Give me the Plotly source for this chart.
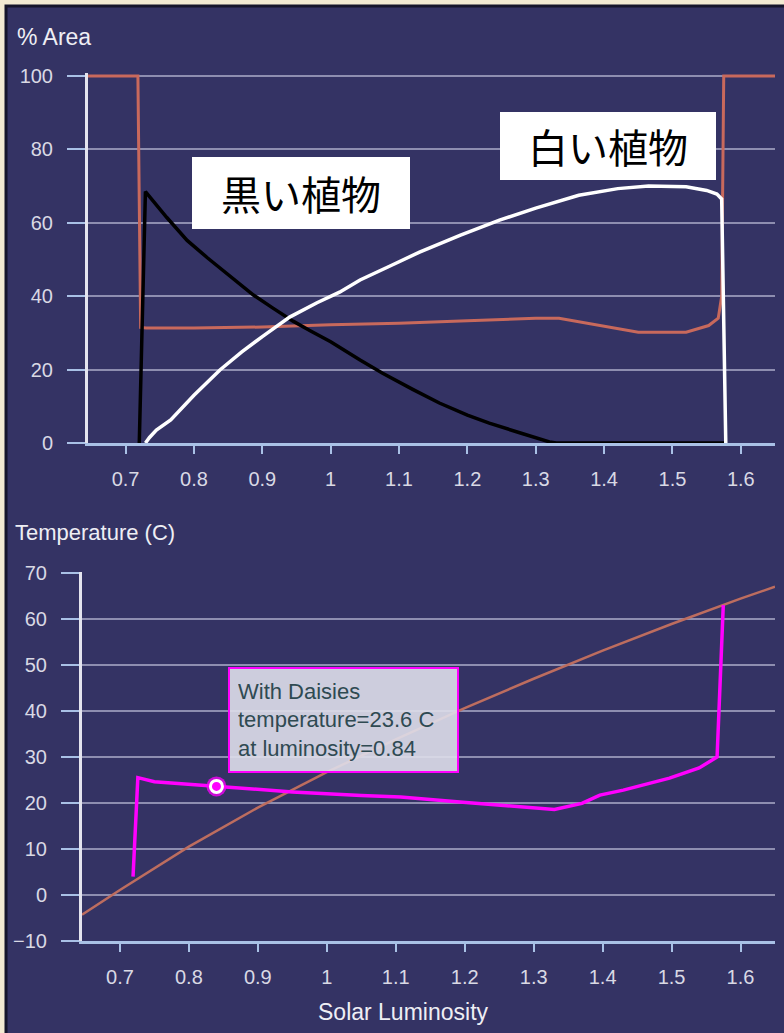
import plotly.graph_objects as go

W, H = 784, 1033

# ---------------- data ----------------
# Top chart: % area vs solar luminosity
lum_bare = [0.645, 0.718, 0.722, 0.73, 0.8, 0.9, 1.0, 1.05, 1.1, 1.2, 1.3, 1.334, 1.4, 1.45, 1.52, 1.553, 1.567, 1.572, 1.575, 1.65]
area_bare = [100, 100, 31.5, 31.3, 31.3, 31.6, 32.2, 32.4, 32.6, 33.3, 34.0, 34.0, 31.8, 30.2, 30.2, 32.0, 34.0, 40.0, 100, 100]

lum_black = [0.72, 0.729, 0.76, 0.79, 0.82, 0.85, 0.887, 0.915, 0.945, 0.97, 1.0, 1.043, 1.076, 1.12, 1.159, 1.2, 1.232, 1.28, 1.32, 1.33, 1.578]
area_black = [0, 68.5, 61.5, 55.2, 50.4, 46.0, 40.3, 36.8, 33.2, 30.6, 27.6, 22.6, 19.0, 14.6, 10.9, 7.6, 5.4, 2.6, 0.3, 0, 0]

lum_white = [0.729, 0.735, 0.745, 0.766, 0.8, 0.838, 0.87, 0.9, 0.94, 0.98, 1.013, 1.043, 1.09, 1.13, 1.19, 1.247, 1.3, 1.363, 1.42, 1.465, 1.52, 1.55, 1.565, 1.572, 1.578]
area_white = [0, 1.5, 3.5, 6.3, 13.0, 19.9, 24.8, 29.0, 34.3, 38.2, 41.1, 44.4, 48.5, 52.0, 56.6, 60.7, 64.0, 67.5, 69.3, 70.0, 69.8, 68.8, 67.8, 66.5, 0]

# Bottom chart: temperature vs solar luminosity
lum_nodaisy = [0.645, 0.7, 0.8, 0.9, 1.0, 1.1, 1.2, 1.3, 1.4, 1.5, 1.6, 1.65]
temp_nodaisy = [-4.3, 1.1, 10.5, 19.0, 26.7, 33.8, 40.6, 47.0, 53.1, 58.9, 64.4, 67.0]

lum_daisy = [0.719, 0.726, 0.75, 0.84, 0.95, 1.05, 1.107, 1.193, 1.28, 1.33, 1.37, 1.396, 1.43, 1.497, 1.54, 1.566, 1.575]
temp_daisy = [4.0, 25.5, 24.6, 23.6, 22.4, 21.6, 21.3, 20.2, 19.2, 18.6, 19.9, 21.7, 22.8, 25.4, 27.6, 30.0, 63.0]

marker_lum = 0.84
marker_temp = 23.6

x_tickvals = [0.7, 0.8, 0.9, 1.0, 1.1, 1.2, 1.3, 1.4, 1.5, 1.6]
x_ticktext = ["0.7", "0.8", "0.9", "1", "1.1", "1.2", "1.3", "1.4", "1.5", "1.6"]
area_ticks = [0, 20, 40, 60, 80, 100]
temp_ticks = [-10, 0, 10, 20, 30, 40, 50, 60, 70]

label_black = "黒い植物"
label_white = "白い植物"

# ---------------- styling ----------------
NAVY = "#343364"
BEIGE = "#f2ead2"
BROWN = "#c8695c"
BROWN2 = "#bd6d5f"
MAGENTA = "#ff00ff"
AXBLUE = "#a9c1e6"
GRID = "rgba(190,190,216,0.66)"
FONT = "Liberation Sans, Arial, sans-serif"
TICKFONT = dict(family=FONT, size=20, color="#d9d9e4")


def px(x):
    return x / W


def py(y):
    return 1 - y / H


fig = go.Figure()

fig.add_trace(go.Scatter(x=lum_bare, y=area_bare, mode="lines",
                         line=dict(color=BROWN, width=3), xaxis="x", yaxis="y", hoverinfo="skip"))
fig.add_trace(go.Scatter(x=lum_black, y=area_black, mode="lines",
                         line=dict(color="#000000", width=3.5), xaxis="x", yaxis="y", hoverinfo="skip"))
fig.add_trace(go.Scatter(x=lum_white, y=area_white, mode="lines",
                         line=dict(color="#ffffff", width=3.5), xaxis="x", yaxis="y", hoverinfo="skip"))

fig.add_trace(go.Scatter(x=lum_nodaisy, y=temp_nodaisy, mode="lines",
                         line=dict(color=BROWN2, width=2.5), xaxis="x2", yaxis="y2", hoverinfo="skip"))
fig.add_trace(go.Scatter(x=lum_daisy, y=temp_daisy, mode="lines",
                         line=dict(color=MAGENTA, width=3.5), xaxis="x2", yaxis="y2", hoverinfo="skip"))
fig.add_trace(go.Scatter(x=[marker_lum], y=[marker_temp], mode="markers",
                         marker=dict(size=20, color="rgba(255,0,255,0.75)"),
                         xaxis="x2", yaxis="y2", hoverinfo="skip", cliponaxis=False))
fig.add_trace(go.Scatter(x=[marker_lum], y=[marker_temp], mode="markers",
                         marker=dict(size=12, color=MAGENTA, line=dict(color="#ffffff", width=3)),
                         xaxis="x2", yaxis="y2", hoverinfo="skip", cliponaxis=False))

xaxis_common = dict(
    tickvals=x_tickvals, ticktext=x_ticktext, range=[0.645, 1.65],
    showgrid=False, zeroline=False, showline=True, linecolor=AXBLUE, linewidth=3,
    ticks="outside", ticklen=8, tickwidth=2, tickcolor=AXBLUE,
    tickfont=TICKFONT, ticklabelstandoff=8, fixedrange=True, automargin=False,
)
yaxis_common = dict(
    showgrid=True, gridcolor=GRID, gridwidth=1.5, zeroline=False,
    showline=True, linecolor="#e4e4ee", linewidth=3,
    ticks="outside", ticklen=18, tickwidth=2, tickcolor=AXBLUE,
    tickfont=TICKFONT, ticklabelstandoff=10, fixedrange=True, automargin=False,
)

fig.update_layout(
    width=W, height=H, autosize=False,
    margin=dict(l=0, r=0, t=0, b=0, pad=0, autoexpand=False),
    paper_bgcolor=BEIGE,
    plot_bgcolor=NAVY,
    showlegend=False,
    xaxis=dict(domain=[px(88), px(775)], anchor="y", **xaxis_common),
    yaxis=dict(domain=[py(443), py(73)], anchor="x", range=[0, 100.8],
               tickvals=area_ticks, **yaxis_common),
    xaxis2=dict(domain=[px(82), px(775)], anchor="y2", **xaxis_common),
    yaxis2=dict(domain=[py(941), py(572)], anchor="x2", range=[-10, 70.2],
                tickvals=temp_ticks, **yaxis_common),
    shapes=[
        dict(type="rect", xref="paper", yref="paper", x0=px(6), x1=px(820), y0=py(1060), y1=py(6),
             fillcolor=NAVY, line=dict(color="#15152b", width=3), layer="below"),
    ],
    annotations=[
        dict(text="% Area", xref="paper", yref="paper", x=px(15), y=py(37),
             xanchor="left", yanchor="middle", showarrow=False,
             font=dict(family=FONT, size=23, color="#eeeef4")),
        dict(text="Temperature (C)", xref="paper", yref="paper", x=px(13), y=py(532),
             xanchor="left", yanchor="middle", showarrow=False,
             font=dict(family=FONT, size=22, color="#eeeef4")),
        dict(text="Solar Luminosity", xref="paper", yref="paper", x=px(403), y=py(1012),
             xanchor="center", yanchor="middle", showarrow=False,
             font=dict(family=FONT, size=23, color="#eeeef4")),
        dict(text=label_black, xref="paper", yref="paper", x=px(301), y=py(193),
             xanchor="center", yanchor="middle", showarrow=False,
             width=218, height=72, borderpad=0, borderwidth=0, bgcolor="#ffffff",
             font=dict(family="Noto Sans CJK JP", size=40, color="#000000")),
        dict(text=label_white, xref="paper", yref="paper", x=px(608), y=py(146),
             xanchor="center", yanchor="middle", showarrow=False,
             width=216, height=68, borderpad=0, borderwidth=0, bgcolor="#ffffff",
             font=dict(family="Noto Sans CJK JP", size=40, color="#000000")),
        dict(text=f"With Daisies<br>temperature={marker_temp} C<br>at luminosity={marker_lum}",
             xref="paper", yref="paper", x=px(343.5), y=py(720),
             xanchor="center", yanchor="middle", showarrow=False, align="left",
             width=211, height=86, borderpad=8, borderwidth=2,
             bordercolor=MAGENTA, bgcolor="rgba(222,222,234,0.9)",
             font=dict(family=FONT, size=22, color="#2f4a52")),
    ],
)

fig.write_html("out.html", config={"displayModeBar": False},
               post_script="document.body.style.margin='0';")
